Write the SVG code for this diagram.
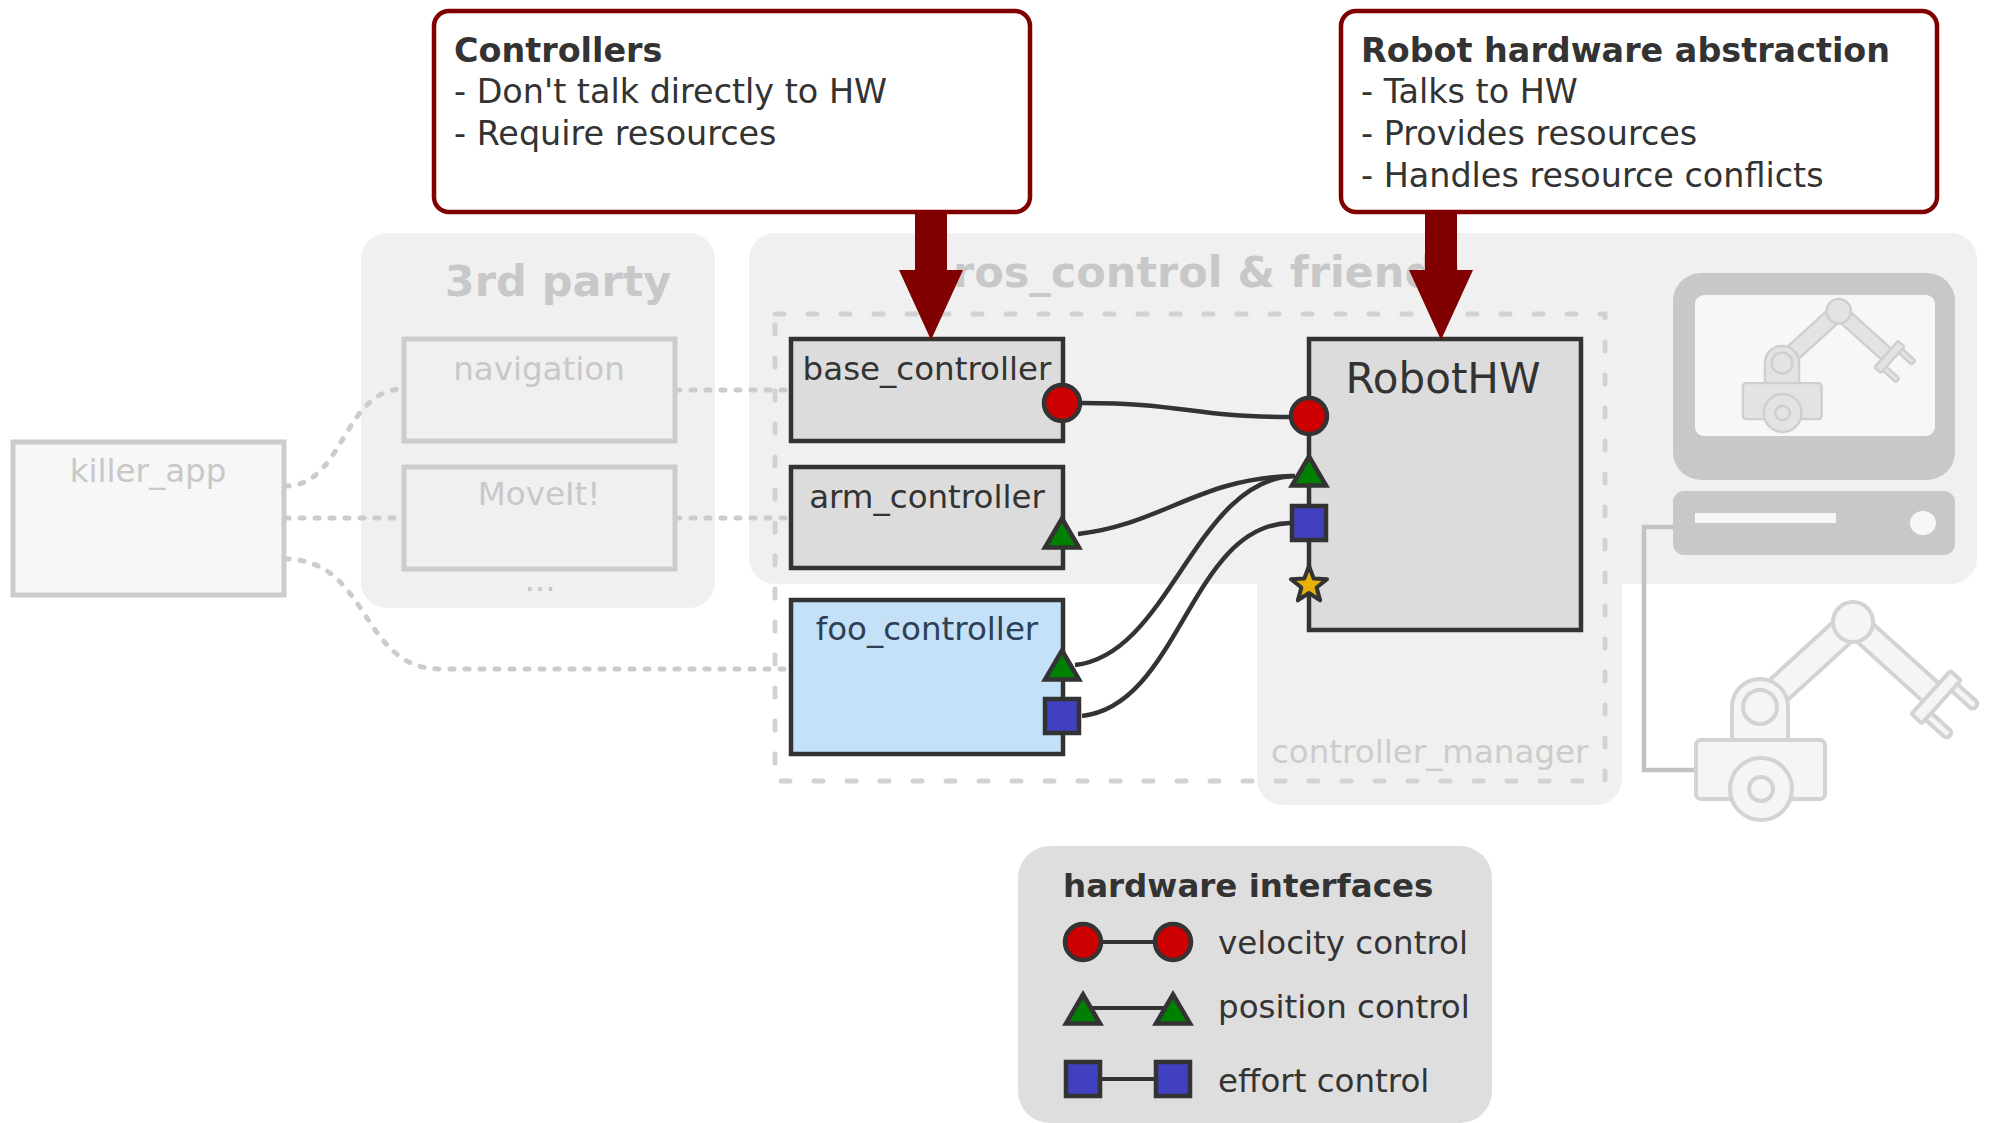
<svg xmlns="http://www.w3.org/2000/svg" width="1991" height="1123" viewBox="0 0 1991 1123">
  <style>
    text { font-family: "DejaVu Sans", "Liberation Sans", sans-serif; }
    .panel { fill: #f0f0f0; }
    .group-title { font-size: 43px; font-weight: bold; fill: #c8c8c8; }
    .node { fill: #dcdcdc; stroke: #333333; stroke-width: 4.5; }
    .node-foo { fill: #c5e1f8; stroke: #333333; stroke-width: 4.5; }
    .ext { fill: #f0f0f0; stroke: #cccccc; stroke-width: 5; }
    .ext-app { fill: #f7f7f7; stroke: #cccccc; stroke-width: 5; }
    .lbl { font-size: 32.5px; fill: #333333; text-anchor: middle; }
    .lbl-foo { font-size: 32.5px; fill: #2e4055; text-anchor: middle; }
    .lbl-faint { font-size: 32.5px; fill: #c8c8c8; text-anchor: middle; }
    .dotted { fill: none; stroke: #cccccc; stroke-width: 5; stroke-linecap: round; stroke-dasharray: 4 11; }
    .wire { fill: none; stroke: #333333; stroke-width: 4.5; }
    .callout { fill: #ffffff; stroke: #800000; stroke-width: 4.5; }
    .callout-arrow { fill: #800000; }
    .callout-text { font-size: 33.4px; fill: #333333; }
    .bold { font-weight: bold; }
    .legend-text { font-size: 32.5px; fill: #333333; }
  </style>
  <defs>
    <!-- hardware interface port glyphs, centred on the origin -->
    <circle id="port-vel" r="18" fill="#cc0000" stroke="#333333" stroke-width="4.5"/>
    <path id="port-pos" d="M0,-13.5 L17,15.5 L-17,15.5 Z" fill="#008000" stroke="#333333" stroke-width="4.5" stroke-linejoin="miter"/>
    <rect id="port-eff" x="-17" y="-17" width="34" height="34" fill="#4040c0" stroke="#333333" stroke-width="4.5"/>
    <polygon id="port-star" points="0,-19 4.7,-6.47 18.07,-5.87 7.61,2.47 11.17,15.37 0,8 -11.17,15.37 -7.61,2.47 -18.07,-5.87 -4.7,-6.47" fill="#e8b10a" stroke="#333333" stroke-width="4" stroke-linejoin="round"/>
    <!-- robot arm pictogram, origin at the shoulder joint -->
    <g id="robot">
      <rect x="0" y="-13.5" width="126" height="27" transform="rotate(-42.4)"/>
      <g transform="translate(93,-85) rotate(42.1)">
        <rect x="0" y="-12" width="112" height="24"/>
        <rect x="110" y="-24" width="38" height="9" rx="4"/>
        <rect x="110" y="15" width="38" height="9" rx="4"/>
        <rect x="105" y="-29" width="14" height="58" rx="2"/>
      </g>
      <circle cx="93" cy="-85" r="20"/>
      <path d="M-28,33 V0 A28,28 0 0 1 28,0 V33 Z"/>
      <circle r="17"/>
      <rect x="-64" y="33" width="129" height="59" rx="5"/>
      <circle cx="1" cy="82" r="31"/>
      <circle cx="1" cy="82" r="12"/>
    </g>
  </defs>

  <!-- grouping panels -->
  <g id="panel-3rd-party">
    <rect class="panel" x="361" y="233" width="354" height="375" rx="26"/>
    <text class="group-title" x="558" y="296" text-anchor="middle">3rd party</text>
  </g>
  <g id="panel-ros-control">
    <rect class="panel" x="749" y="233" width="1228" height="351" rx="26"/>
    <rect class="panel" x="1257" y="500" width="365" height="305" rx="26"/>
    <text class="group-title" x="953" y="287">ros_control &amp; friends</text>
  </g>
  <g id="controller-manager">
    <rect x="775" y="314" width="830" height="467" fill="none" stroke="#d2d2d2" stroke-width="5" stroke-linecap="round" stroke-dasharray="9 24"/>
    <text x="1271" y="763" font-size="32.5" fill="#cccccc">controller_manager</text>
  </g>

  <!-- computer and physical robot -->
  <g id="computer">
    <path d="M1673,527 H1644 V770 H1697" fill="none" stroke="#c2c2c2" stroke-width="4.5"/>
    <rect x="1673" y="273" width="282" height="207" rx="28" fill="#c8c8c8"/>
    <rect x="1695" y="295" width="240" height="141" rx="9" fill="#f7f7f7"/>
    <rect x="1673" y="491" width="282" height="64" rx="11" fill="#c8c8c8"/>
    <rect x="1695" y="513" width="141" height="10" fill="#f7f7f7"/>
    <ellipse cx="1923" cy="523" rx="13" ry="12" fill="#f7f7f7"/>
    <use href="#robot" transform="translate(1782,363) scale(0.61)" fill="#e3e3e3" stroke="#cfcfcf" stroke-width="4"/>
  </g>
  <g id="robot-hw">
    <use href="#robot" transform="translate(1760,707)" fill="#f5f5f5" stroke="#d3d3d3" stroke-width="4"/>
  </g>

  <!-- connectors -->
  <g id="connectors">
    <path class="dotted" d="M285,486 C345,486 342,389 404,389"/>
    <path class="dotted" d="M285,518 H404"/>
    <path class="dotted" d="M285,559 C370,559 360,669 440,669 H791"/>
    <path class="dotted" d="M676,390 H791"/>
    <path class="dotted" d="M676,518 H791"/>
    <path class="wire" d="M1082,403 C1185,403 1190,417 1290,417"/>
    <path class="wire" d="M1078,534 C1160,525 1200,478 1292,476"/>
    <path class="wire" d="M1075,665 C1170,655 1195,478 1295,476"/>
    <path class="wire" d="M1082,716 C1180,705 1190,525 1290,523"/>
  </g>

  <!-- nodes -->
  <g id="killer_app">
    <rect class="ext-app" x="13" y="442" width="271" height="153"/>
    <text class="lbl-faint" x="148" y="482">killer_app</text>
  </g>
  <g id="navigation">
    <rect class="ext" x="404" y="339" width="271" height="102"/>
    <text class="lbl-faint" x="539" y="380">navigation</text>
  </g>
  <g id="moveit">
    <rect class="ext" x="404" y="467" width="271" height="102"/>
    <text class="lbl-faint" x="539" y="505">MoveIt!</text>
  </g>
  <g id="more-3rd-party">
    <text class="lbl-faint" x="540" y="591">...</text>
  </g>
  <g id="base_controller">
    <rect class="node" x="791" y="339" width="272" height="102"/>
    <text class="lbl" x="927" y="380">base_controller</text>
    <use href="#port-vel" x="1062" y="403"/>
  </g>
  <g id="arm_controller">
    <rect class="node" x="791" y="467" width="272" height="101"/>
    <text class="lbl" x="927" y="508">arm_controller</text>
    <use href="#port-pos" x="1062" y="532"/>
  </g>
  <g id="foo_controller">
    <rect class="node-foo" x="791" y="600" width="272" height="154"/>
    <text class="lbl-foo" x="927" y="640">foo_controller</text>
    <use href="#port-pos" x="1062" y="664"/>
    <use href="#port-eff" x="1062" y="716"/>
  </g>
  <g id="RobotHW">
    <rect class="node" x="1309" y="339" width="272" height="291"/>
    <text x="1443" y="393" font-size="42" fill="#333333" text-anchor="middle">RobotHW</text>
    <use href="#port-vel" x="1309" y="416"/>
    <use href="#port-pos" x="1309" y="470"/>
    <use href="#port-eff" x="1309" y="523"/>
    <use href="#port-star" x="1309" y="585"/>
  </g>

  <!-- legend -->
  <g id="legend">
    <rect x="1018" y="846" width="474" height="277" rx="32" fill="#dedede"/>
    <text class="legend-text bold" x="1063" y="897">hardware interfaces</text>
    <line x1="1083" y1="942" x2="1173" y2="942" stroke="#333333" stroke-width="4"/>
    <use href="#port-vel" x="1083" y="942"/>
    <use href="#port-vel" x="1173" y="942"/>
    <text class="legend-text" x="1218" y="954">velocity control</text>
    <line x1="1083" y1="1008" x2="1173" y2="1008" stroke="#333333" stroke-width="4"/>
    <use href="#port-pos" x="1083" y="1008"/>
    <use href="#port-pos" x="1173" y="1008"/>
    <text class="legend-text" x="1218" y="1018">position control</text>
    <line x1="1083" y1="1079" x2="1173" y2="1079" stroke="#333333" stroke-width="4"/>
    <use href="#port-eff" x="1083" y="1079"/>
    <use href="#port-eff" x="1173" y="1079"/>
    <text class="legend-text" x="1218" y="1092">effort control</text>
  </g>

  <!-- callouts -->
  <g id="callout-controllers">
    <rect class="callout" x="434" y="11" width="596" height="201" rx="15"/>
    <polygon class="callout-arrow" points="915,212 947,212 947,270 963,270 931,340 899,270 915,270"/>
    <text class="callout-text" x="454">
      <tspan class="bold" x="454" y="62">Controllers</tspan>
      <tspan x="454" y="103">- Don't talk directly to HW</tspan>
      <tspan x="454" y="145">- Require resources</tspan>
    </text>
  </g>
  <g id="callout-robothw">
    <rect class="callout" x="1341" y="11" width="596" height="201" rx="15"/>
    <polygon class="callout-arrow" points="1425,212 1457,212 1457,270 1473,270 1441,340 1409,270 1425,270"/>
    <text class="callout-text" x="1361">
      <tspan class="bold" x="1361" y="62">Robot hardware abstraction</tspan>
      <tspan x="1361" y="103">- Talks to HW</tspan>
      <tspan x="1361" y="145">- Provides resources</tspan>
      <tspan x="1361" y="187">- Handles resource conflicts</tspan>
    </text>
  </g>
</svg>
